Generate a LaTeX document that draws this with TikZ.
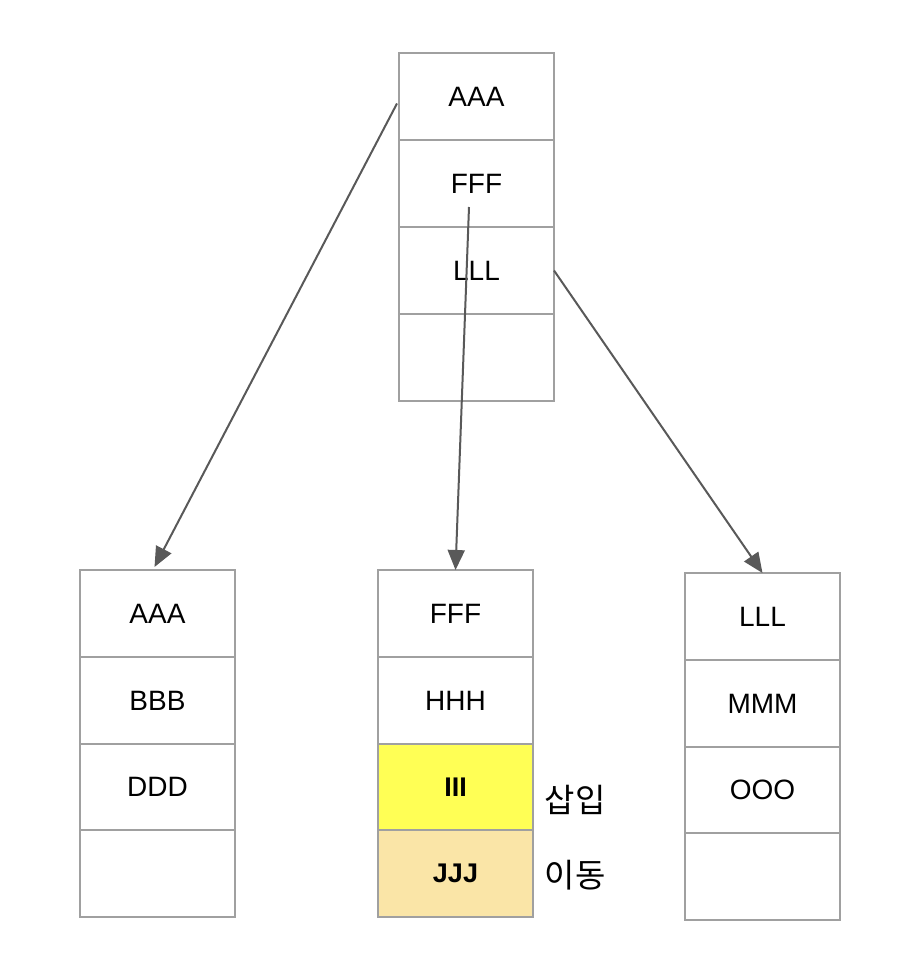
\documentclass[tikz,border=0pt]{standalone}
\usepackage{fontspec}
\setmainfont{Liberation Sans}
\newfontfamily\kr{Noto Sans CJK KR}
\usetikzlibrary{arrows.meta}
\definecolor{cellline}{HTML}{A0A0A0}
\definecolor{arrowc}{HTML}{595959}
\definecolor{insy}{HTML}{FFFF55}
\definecolor{movt}{HTML}{FAE5A7}
\begin{document}
\begin{tikzpicture}[x=1pt,y=-1pt,
  cell/.style={draw=cellline,line width=2pt,fill=white,minimum width=155pt,minimum height=87pt,inner sep=0pt,outer sep=0pt,font=\fontsize{28}{32}\selectfont},
  link/.style={draw=arrowc,line width=2pt,-{Triangle[length=20pt,width=17pt]}},
  lab/.style={font=\kr\fontsize{33}{36}\selectfont,inner sep=0pt}]
\useasboundingbox (0,0) rectangle (908,974);
% top block
\node[cell] (t1) at (476.5,96.5) {AAA};
\node[cell] (t2) at (476.5,183.5) {FFF};
\node[cell] (t3) at (476.5,270.5) {LLL};
\node[cell] (t4) at (476.5,357.5) {};
% left block
\node[cell] (l1) at (157.5,613.5) {AAA};
\node[cell] (l2) at (157.5,700.5) {BBB};
\node[cell] (l3) at (157.5,787) {DDD};
\node[cell] (l4) at (157.5,873.5) {};
% middle block
\node[cell] (m1) at (455.5,613.5) {FFF};
\node[cell] (m2) at (455.5,700.5) {HHH};
\node[cell,fill=insy,font=\fontsize{27}{30}\selectfont\bfseries] (m3) at (455.5,787) {III};
\node[cell,fill=movt,font=\fontsize{27}{30}\selectfont\bfseries] (m4) at (455.5,873.5) {JJJ};
% right block
\node[cell] (r1) at (762.5,616.5) {LLL};
\node[cell] (r2) at (762.5,703.5) {MMM};
\node[cell] (r3) at (762.5,790) {OOO};
\node[cell] (r4) at (762.5,876.5) {};
% labels
\node[lab] (ins) at (575,800) {삽입};
\node[lab] (mov) at (575,875) {이동};
% connectors
\coordinate (ta) at ([shift={(-2,7)}]t1.west);
\coordinate (fs) at (469,207);
\coordinate (la) at ([shift={(-3,-3)}]l1.north);
\draw[link] (ta) -- (la);
\draw[link] (fs) -- (m1.north);
\draw[link] (t3.east) -- (r1.north);
\end{tikzpicture}
\end{document}
